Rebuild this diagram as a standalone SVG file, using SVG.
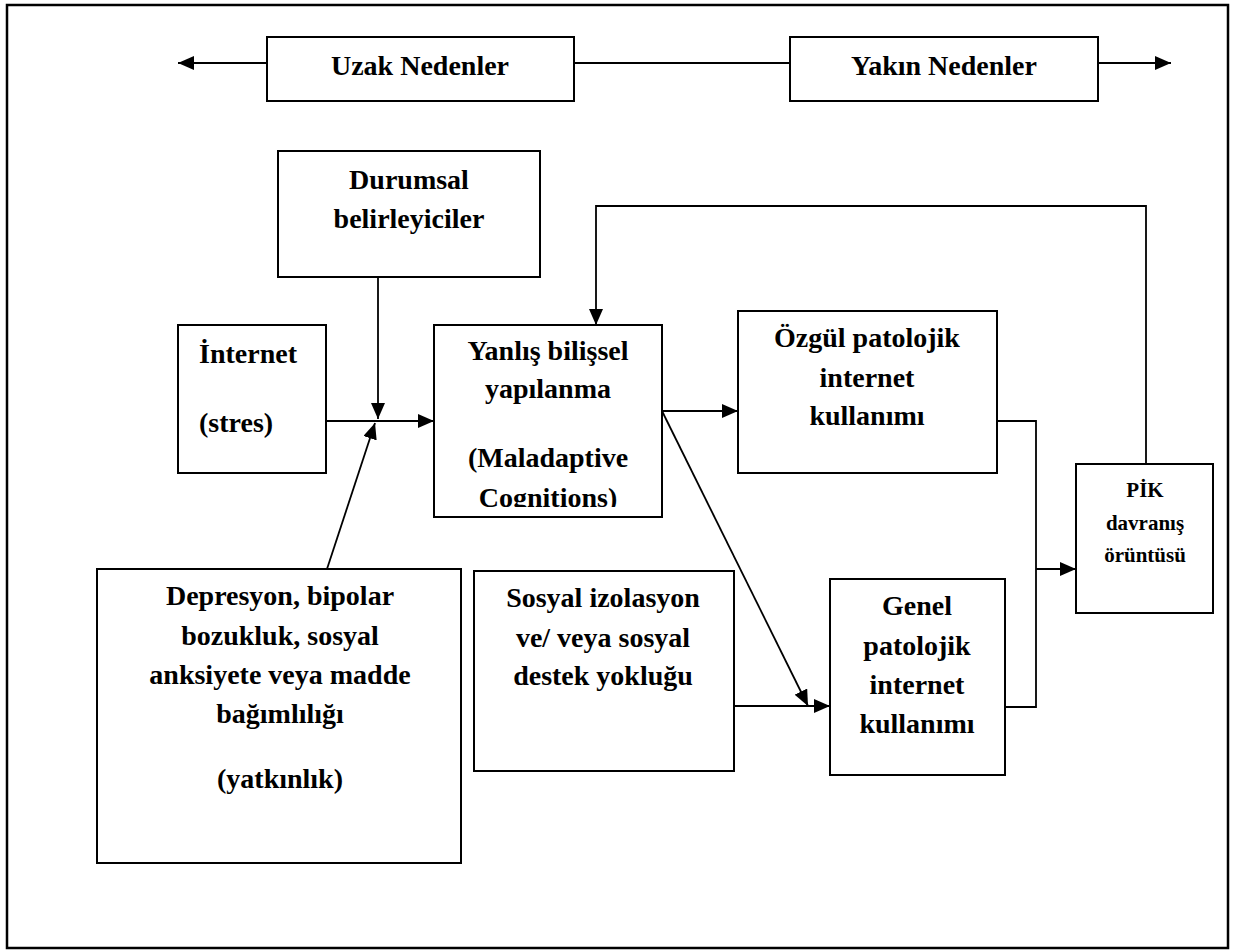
<svg xmlns="http://www.w3.org/2000/svg" width="1234" height="950" viewBox="0 0 1234 950">
<style>
.box{fill:#fff;stroke:#000;stroke-width:2}
.t{font-family:"Liberation Serif","Times New Roman",serif;font-weight:bold;font-size:28px;fill:#000;text-anchor:middle}
.s{font-size:21px}
.c{fill:none;stroke:#000;stroke-width:1.8}
</style>
<defs>
<marker id="ah" markerUnits="userSpaceOnUse" markerWidth="16" markerHeight="14" viewBox="0 0 16 14" refX="16" refY="7" orient="auto">
<path d="M0,0 L16,7 L0,14 Z" fill="#000"/>
</marker>
<clipPath id="clipY"><rect x="434" y="325" width="228" height="182"/></clipPath>
</defs>
<rect x="0" y="0" width="1234" height="950" fill="#fff"/>
<rect x="7" y="5" width="1221" height="943" fill="none" stroke="#000" stroke-width="2.5"/>

<g id="connectors">
<path class="c" d="M267,63 H178" marker-end="url(#ah)"/>
<path class="c" d="M574,63 H790"/>
<path class="c" d="M1098,63 H1171" marker-end="url(#ah)"/>
<path class="c" d="M378,277 V419" marker-end="url(#ah)"/>
<path class="c" d="M326,421 H434" marker-end="url(#ah)"/>
<path class="c" d="M327,569 L375,423" marker-end="url(#ah)"/>
<path class="c" d="M662,411 H738" marker-end="url(#ah)"/>
<path class="c" d="M662,411 L808,706" marker-end="url(#ah)"/>
<path class="c" d="M734,706 H830" marker-end="url(#ah)"/>
<path class="c" d="M997,421 H1036 V707 H1005"/>
<path class="c" d="M1036,569 H1076" marker-end="url(#ah)"/>
<path class="c" d="M1146,464 V206 H596 V325" marker-end="url(#ah)"/>
</g>

<g id="uzak">
<rect class="box" x="267" y="37" width="307" height="64"/>
<text class="t" x="420" y="75">Uzak Nedenler</text>
</g>
<g id="yakin">
<rect class="box" x="790" y="37" width="308" height="64"/>
<text class="t" x="944" y="75">Yakın Nedenler</text>
</g>
<g id="durumsal">
<rect class="box" x="278" y="151" width="262" height="126"/>
<text class="t" x="409" y="189">Durumsal</text>
<text class="t" x="409" y="228">belirleyiciler</text>
</g>
<g id="internet">
<rect class="box" x="178" y="325" width="148" height="148"/>
<text class="t" x="199" y="363" style="text-anchor:start">İnternet</text>
<text class="t" x="199" y="432" style="text-anchor:start">(stres)</text>
</g>
<g id="yanlis">
<rect class="box" x="434" y="325" width="228" height="192"/>
<g clip-path="url(#clipY)">
<text class="t" x="548" y="360">Yanlış bilişsel</text>
<text class="t" x="548" y="398">yapılanma</text>
<text class="t" x="548" y="467">(Maladaptive</text>
<text class="t" x="548" y="507">Cognitions)</text>
</g>
</g>
<g id="ozgul">
<rect class="box" x="738" y="311" width="259" height="162"/>
<text class="t" x="867" y="347">Özgül patolojik</text>
<text class="t" x="867" y="387">internet</text>
<text class="t" x="867" y="425">kullanımı</text>
</g>
<g id="pik">
<rect class="box" x="1076" y="464" width="137" height="149"/>
<text class="t s" x="1145" y="497">PİK</text>
<text class="t s" x="1145" y="530">davranış</text>
<text class="t s" x="1145" y="562">örüntüsü</text>
</g>
<g id="depresyon">
<rect class="box" x="97" y="569" width="364" height="294"/>
<text class="t" x="280" y="605">Depresyon, bipolar</text>
<text class="t" x="280" y="645">bozukluk, sosyal</text>
<text class="t" x="280" y="684">anksiyete veya madde</text>
<text class="t" x="280" y="723">bağımlılığı</text>
<text class="t" x="280" y="788">(yatkınlık)</text>
</g>
<g id="sosyal">
<rect class="box" x="474" y="571" width="260" height="200"/>
<text class="t" x="603" y="607">Sosyal izolasyon</text>
<text class="t" x="603" y="647">ve/ veya sosyal</text>
<text class="t" x="603" y="685">destek yokluğu</text>
</g>
<g id="genel">
<rect class="box" x="830" y="579" width="175" height="196"/>
<text class="t" x="917" y="615">Genel</text>
<text class="t" x="917" y="655">patolojik</text>
<text class="t" x="917" y="694">internet</text>
<text class="t" x="917" y="733">kullanımı</text>
</g>
</svg>
